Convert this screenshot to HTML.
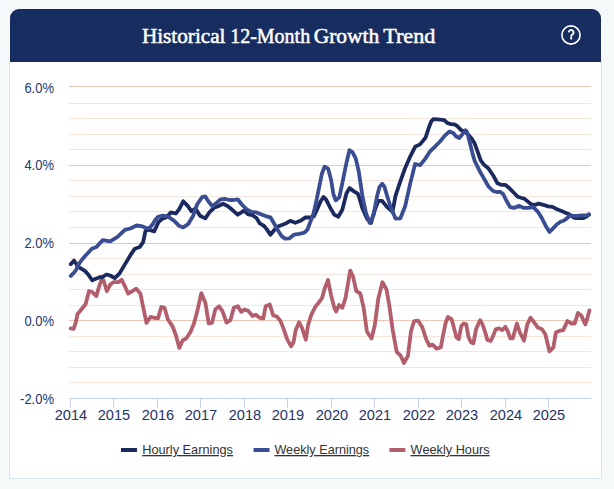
<!DOCTYPE html>
<html><head><meta charset="utf-8"><style>
html,body{margin:0;padding:0;}
body{width:614px;height:489px;background:#f5f9fa;position:relative;overflow:hidden;font-family:"Liberation Sans",sans-serif;}
.hdr{position:absolute;left:10px;top:9px;width:591px;height:53px;background:#182d5f;border-radius:9px 9px 0 0;}
.body{position:absolute;left:9px;top:62px;width:591px;height:416px;background:#fff;border:1px solid #d3e7ec;border-top:none;border-radius:0 0 2px 2px;}
svg{position:absolute;left:0;top:0;}
</style></head><body>
<div class="hdr"></div>
<div class="body"></div>
<svg width="614" height="489" viewBox="0 0 614 489">
<g><line x1="69" x2="591" y1="86.50" y2="86.50" stroke="#eec6b6" stroke-width="1.05"/>
<line x1="69" x2="591" y1="103.50" y2="103.50" stroke="#f6e5dd" stroke-width="1.05"/>
<line x1="69" x2="591" y1="118.50" y2="118.50" stroke="#f6e5dd" stroke-width="1.05"/>
<line x1="69" x2="591" y1="134.50" y2="134.50" stroke="#f6e5dd" stroke-width="1.05"/>
<line x1="69" x2="591" y1="149.50" y2="149.50" stroke="#f6e5dd" stroke-width="1.05"/>
<line x1="69" x2="591" y1="165.50" y2="165.50" stroke="#eec6b6" stroke-width="1.05"/>
<line x1="69" x2="591" y1="180.50" y2="180.50" stroke="#f6e5dd" stroke-width="1.05"/>
<line x1="69" x2="591" y1="196.50" y2="196.50" stroke="#f6e5dd" stroke-width="1.05"/>
<line x1="69" x2="591" y1="211.50" y2="211.50" stroke="#f6e5dd" stroke-width="1.05"/>
<line x1="69" x2="591" y1="227.50" y2="227.50" stroke="#f6e5dd" stroke-width="1.05"/>
<line x1="69" x2="591" y1="243.50" y2="243.50" stroke="#eec6b6" stroke-width="1.05"/>
<line x1="69" x2="591" y1="258.50" y2="258.50" stroke="#f6e5dd" stroke-width="1.05"/>
<line x1="69" x2="591" y1="274.50" y2="274.50" stroke="#f6e5dd" stroke-width="1.05"/>
<line x1="69" x2="591" y1="289.50" y2="289.50" stroke="#f6e5dd" stroke-width="1.05"/>
<line x1="69" x2="591" y1="305.50" y2="305.50" stroke="#f6e5dd" stroke-width="1.05"/>
<line x1="69" x2="591" y1="320.50" y2="320.50" stroke="#eec6b6" stroke-width="1.05"/>
<line x1="69" x2="591" y1="336.50" y2="336.50" stroke="#f6e5dd" stroke-width="1.05"/>
<line x1="69" x2="591" y1="351.50" y2="351.50" stroke="#f6e5dd" stroke-width="1.05"/>
<line x1="69" x2="591" y1="367.50" y2="367.50" stroke="#f6e5dd" stroke-width="1.05"/>
<line x1="69" x2="591" y1="382.50" y2="382.50" stroke="#f6e5dd" stroke-width="1.05"/>
</g>
<line x1="69.3" x2="591.2" y1="398.5" y2="398.5" stroke="#c8d1ea" stroke-width="1.2"/>
<line x1="70.50" x2="70.50" y1="398.5" y2="408" stroke="#c8d1ea" stroke-width="1"/>
<line x1="113.50" x2="113.50" y1="398.5" y2="408" stroke="#c8d1ea" stroke-width="1"/>
<line x1="157.50" x2="157.50" y1="398.5" y2="408" stroke="#c8d1ea" stroke-width="1"/>
<line x1="200.50" x2="200.50" y1="398.5" y2="408" stroke="#c8d1ea" stroke-width="1"/>
<line x1="244.50" x2="244.50" y1="398.5" y2="408" stroke="#c8d1ea" stroke-width="1"/>
<line x1="287.50" x2="287.50" y1="398.5" y2="408" stroke="#c8d1ea" stroke-width="1"/>
<line x1="331.50" x2="331.50" y1="398.5" y2="408" stroke="#c8d1ea" stroke-width="1"/>
<line x1="374.50" x2="374.50" y1="398.5" y2="408" stroke="#c8d1ea" stroke-width="1"/>
<line x1="418.50" x2="418.50" y1="398.5" y2="408" stroke="#c8d1ea" stroke-width="1"/>
<line x1="461.50" x2="461.50" y1="398.5" y2="408" stroke="#c8d1ea" stroke-width="1"/>
<line x1="505.50" x2="505.50" y1="398.5" y2="408" stroke="#c8d1ea" stroke-width="1"/>
<line x1="548.50" x2="548.50" y1="398.5" y2="408" stroke="#c8d1ea" stroke-width="1"/>

<g font-family="Liberation Sans" font-size="13" fill="#22396e"><text transform="translate(54,92.6) scale(1,1.08)" text-anchor="end">6.0%</text>
<text transform="translate(54,169.6) scale(1,1.08)" text-anchor="end">4.0%</text>
<text transform="translate(54,247.6) scale(1,1.08)" text-anchor="end">2.0%</text>
<text transform="translate(54,325.6) scale(1,1.08)" text-anchor="end">0.0%</text>
<text transform="translate(54,403.6) scale(1,1.08)" text-anchor="end">-2.0%</text>
</g>
<g font-family="Liberation Sans" font-size="14" fill="#1f3468"><text transform="translate(70.9,420) scale(1.045,1)" text-anchor="middle">2014</text>
<text transform="translate(113.9,420) scale(1.045,1)" text-anchor="middle">2015</text>
<text transform="translate(157.9,420) scale(1.045,1)" text-anchor="middle">2016</text>
<text transform="translate(200.9,420) scale(1.045,1)" text-anchor="middle">2017</text>
<text transform="translate(244.9,420) scale(1.045,1)" text-anchor="middle">2018</text>
<text transform="translate(287.9,420) scale(1.045,1)" text-anchor="middle">2019</text>
<text transform="translate(331.9,420) scale(1.045,1)" text-anchor="middle">2020</text>
<text transform="translate(374.9,420) scale(1.045,1)" text-anchor="middle">2021</text>
<text transform="translate(418.9,420) scale(1.045,1)" text-anchor="middle">2022</text>
<text transform="translate(461.9,420) scale(1.045,1)" text-anchor="middle">2023</text>
<text transform="translate(505.9,420) scale(1.045,1)" text-anchor="middle">2024</text>
<text transform="translate(548.9,420) scale(1.045,1)" text-anchor="middle">2025</text>
</g>
<g fill="none" stroke-width="3.8" stroke-linejoin="round" stroke-linecap="round">
<path d="M70.6,328.4 L73.6,328.8 L75.8,322.3 L77.5,314.1 L81.5,309.2 L85.6,304.3 L88.9,291.2 L92.2,292.0 L96.3,296.1 L98.7,287.9 L101.2,280.5 L103.6,280.5 L106.9,291.2 L110.2,284.6 L113.4,282.2 L118.4,282.2 L121.6,279.7 L124.9,286.3 L128.2,293.6 L132.3,291.2 L136.3,288.7 L140.4,293.6 L142.9,305.9 L146.5,322.9 L150.6,316.8 L154.7,318.0 L158.0,318.4 L161.3,307.0 L164.5,307.8 L167.8,319.3 L172.7,326.6 L176.0,335.6 L179.3,347.9 L182.5,340.5 L186.6,338.1 L190.7,331.5 L194.0,323.4 L197.3,311.1 L201.3,293.1 L205.4,302.9 L208.7,323.4 L212.0,322.9 L215.3,309.4 L219.1,306.2 L222.4,311.1 L226.5,322.5 L230.5,320.1 L233.8,307.8 L237.9,306.2 L241.2,311.9 L244.4,309.4 L248.5,311.1 L252.6,316.0 L255.9,314.7 L259.2,317.6 L263.3,318.4 L265.7,306.2 L269.8,304.5 L273.1,315.2 L277.2,316.8 L280.4,320.9 L283.7,329.1 L287.0,338.9 L291.1,346.3 L293.5,342.2 L295.7,330.3 L299.0,322.2 L302.3,328.7 L305.8,339.8 L308.0,325.4 L311.3,314.8 L315.4,306.6 L319.4,301.7 L321.9,298.4 L324.4,289.4 L328.0,280.0 L330.9,294.4 L334.2,307.4 L336.1,311.5 L339.1,305.0 L342.4,307.8 L345.6,297.6 L348.1,282.9 L350.2,270.6 L353.0,276.4 L356.3,291.1 L360.3,293.5 L363.6,307.4 L366.9,331.5 L371.5,338.5 L374.8,325.2 L378.3,298.6 L382.4,282.3 L386.5,289.4 L389.5,306.8 L392.6,329.3 L396.7,351.8 L400.8,355.9 L403.9,363.0 L407.9,355.9 L411.0,331.3 L414.1,321.1 L418.2,320.7 L422.3,327.3 L426.3,339.5 L429.4,345.7 L432.5,344.6 L436.6,348.7 L440.8,347.3 L443.3,334.2 L445.7,322.7 L447.9,317.0 L451.5,319.1 L453.9,327.6 L456.4,337.4 L458.8,339.1 L461.3,326.0 L463.7,323.5 L466.2,324.4 L468.6,337.4 L471.1,342.4 L473.5,343.2 L476.0,329.3 L480.1,320.3 L482.5,324.4 L485.0,331.7 L487.4,339.9 L490.7,341.0 L493.2,335.8 L495.6,329.3 L498.9,328.4 L502.2,330.1 L505.4,326.8 L507.9,331.7 L510.3,338.3 L512.8,338.3 L515.3,329.3 L516.9,323.5 L519.9,332.5 L524.0,340.7 L527.3,324.4 L530.5,317.8 L533.8,321.9 L537.9,327.6 L542.0,329.3 L545.3,334.2 L547.7,344.0 L549.4,351.3 L553.4,347.3 L555.9,332.5 L559.2,330.9 L563.3,330.1 L567.4,321.1 L571.4,323.5 L574.7,323.5 L578.0,312.9 L581.3,315.4 L585.3,324.4 L587.0,319.4 L589.4,310.4" stroke="#b25e6d"/>
<path d="M70.7,264.2 L74.0,260.6 L76.1,263.5 L77.5,266.4 L80.8,268.4 L84.9,270.9 L88.2,274.5 L92.3,280.3 L96.4,278.6 L100.4,277.0 L101.9,277.3 L106.5,274.5 L110.2,275.5 L114.8,278.2 L119.4,273.6 L124.9,264.4 L130.4,255.2 L134.9,248.7 L139.8,247.0 L143.1,242.2 L145.5,231.0 L148.8,229.6 L154.2,231.4 L158.5,222.0 L162.5,218.6 L166.5,217.2 L170.9,212.4 L175.8,213.5 L179.1,209.4 L183.2,201.3 L187.3,205.4 L191.4,211.1 L195.4,208.6 L200.3,216.0 L205.3,218.4 L209.1,212.7 L214.0,207.8 L218.1,206.2 L223.0,203.7 L227.9,206.2 L232.8,210.3 L237.7,214.7 L244.1,210.6 L248.2,214.4 L252.4,215.2 L256.5,218.0 L259.8,223.4 L263.9,225.8 L267.2,229.9 L270.4,234.8 L273.7,230.7 L277.8,226.6 L281.9,225.0 L285.1,223.8 L290.2,220.8 L295.3,222.8 L300.4,220.8 L305.6,217.3 L310.7,217.5 L313.8,216.5 L317.5,208.5 L320.5,201.5 L323.5,197.0 L326.0,199.3 L330.1,207.5 L334.2,214.6 L338.3,216.7 L342.4,209.5 L346.5,193.2 L349.5,188.1 L353.6,191.1 L357.7,193.6 L358.7,195.9 L362.4,208.2 L367.3,219.2 L371.0,222.9 L374.6,210.6 L378.3,200.8 L382.0,200.8 L386.9,206.9 L392.5,211.8 L395.5,195.9 L400.4,181.2 L405.3,167.7 L410.2,156.6 L415.1,146.8 L420.0,144.4 L425.5,137.8 L428.7,128.0 L431.2,121.5 L433.2,119.2 L437.9,119.4 L444.3,120.2 L447.5,123.2 L451.0,124.2 L454.5,124.4 L457.3,126.2 L461.4,130.3 L464.4,131.4 L468.5,134.9 L471.6,138.5 L474.7,143.6 L477.7,151.8 L480.8,160.6 L483.9,164.6 L488.5,168.5 L493.0,175.2 L497.5,183.3 L501.0,184.8 L505.4,184.9 L509.3,188.0 L513.6,192.5 L517.9,196.8 L521.5,198.0 L524.3,198.6 L527.9,201.6 L531.2,204.3 L534.8,204.8 L538.7,203.7 L543.3,204.8 L548.0,206.4 L552.6,206.8 L557.6,209.6 L561.5,211.1 L566.0,212.9 L569.6,214.4 L572.0,216.3 L574.5,217.9 L578.5,218.2 L583.0,218.2 L586.6,216.6 L589.0,214.6" stroke="#1b2a5e"/>
<path d="M70.8,275.9 L73.8,272.8 L76.3,269.6 L78.4,264.7 L82.5,259.0 L86.5,254.5 L91.8,248.8 L96.4,247.0 L102.8,240.1 L110.2,241.4 L117.5,236.8 L124.9,229.8 L130.4,228.5 L136.5,225.5 L141.5,226.1 L146.4,228.3 L149.5,227.9 L152.5,224.5 L155.5,219.5 L158.0,216.8 L162.7,215.7 L167.6,216.3 L174.2,220.9 L179.1,225.8 L183.2,227.4 L188.1,224.2 L193.0,216.0 L197.1,204.5 L202.0,197.2 L205.3,196.4 L208.3,201.3 L212.4,206.2 L216.5,202.9 L220.5,199.3 L224.6,198.8 L229.5,200.0 L233.6,200.0 L237.7,199.3 L241.8,204.5 L246.7,209.4 L251.6,211.9 L256.5,212.4 L261.4,214.4 L266.3,216.3 L270.4,217.3 L274.5,224.2 L278.6,231.5 L281.9,236.4 L285.0,238.6 L289.2,238.4 L294.2,234.6 L299.4,233.8 L304.5,232.6 L307.5,229.5 L310.5,221.5 L313.5,213.5 L316.3,201.2 L318.6,190.0 L321.9,173.7 L324.6,166.6 L328.1,168.6 L331.1,179.9 L333.4,194.2 L335.8,200.4 L339.3,197.3 L342.8,180.9 L346.5,162.5 L349.5,150.2 L352.6,152.3 L355.7,158.4 L358.7,171.3 L362.4,195.9 L366.0,213.1 L369.7,222.9 L373.4,215.5 L377.1,196.0 L379.5,187.0 L382.3,183.8 L384.4,186.6 L386.9,195.2 L390.6,207.0 L395.5,218.6 L400.4,218.3 L405.3,205.7 L410.2,183.6 L415.1,164.0 L420.0,165.2 L425.0,159.1 L429.8,151.7 L434.5,147.1 L440.1,141.5 L444.6,135.9 L449.6,131.4 L453.2,132.9 L456.2,136.5 L459.3,138.0 L461.9,134.9 L465.4,130.3 L467.0,131.9 L468.5,137.5 L470.6,145.7 L472.6,153.9 L474.7,161.0 L479.5,170.7 L484.0,178.6 L488.5,186.5 L493.0,191.0 L497.5,192.1 L500.0,191.7 L503.1,194.0 L506.2,200.2 L510.1,207.1 L513.9,207.9 L519.3,205.9 L524.0,207.9 L528.6,207.9 L533.3,207.1 L537.9,211.8 L541.8,218.0 L545.6,225.7 L549.5,231.9 L552.8,228.6 L557.0,224.2 L560.5,221.8 L563.5,220.8 L566.9,218.4 L569.6,215.6 L572.0,215.8 L574.5,216.0 L577.8,215.8 L581.1,215.4 L584.3,215.3 L587.0,215.1 L589.0,214.4" stroke="#3a4d92"/>
</g>
<g font-family="Liberation Serif" font-size="20.8" fill="#fff" stroke="#fff" stroke-width="0.5">
<text x="141.9" y="43" textLength="83.6" lengthAdjust="spacingAndGlyphs">Historical</text>
<text x="230.2" y="43" textLength="80" lengthAdjust="spacingAndGlyphs">12-Month</text>
<text x="313.7" y="43" textLength="65.6" lengthAdjust="spacingAndGlyphs">Growth</text>
<text x="383.2" y="43" textLength="52.2" lengthAdjust="spacingAndGlyphs">Trend</text>
</g>
<circle cx="571" cy="35" r="9.1" fill="none" stroke="#fff" stroke-width="1.6"/>
<path d="M568.9,31.5 A2.4,2.4 0 1 1 572.6,34.3 L571.7,35.1 Q571.2,35.6 571.2,36.4" fill="none" stroke="#fff" stroke-width="1.9" stroke-linecap="round"/>
<circle cx="571.2" cy="38.4" r="1.15" fill="#fff"/>
<g font-family="Liberation Sans" font-size="13" fill="#333">
<rect x="121" y="448" width="16" height="4" fill="#1b2a5e"/>
<text x="142.2" y="454" text-decoration="underline" textLength="90.8" lengthAdjust="spacingAndGlyphs">Hourly Earnings</text>
<rect x="253.5" y="448" width="16" height="4" fill="#3a4d92"/>
<text x="274.4" y="454" text-decoration="underline" textLength="94.8" lengthAdjust="spacingAndGlyphs">Weekly Earnings</text>
<rect x="389.4" y="448" width="16" height="4" fill="#b25e6d"/>
<text x="410.6" y="454" text-decoration="underline" textLength="79" lengthAdjust="spacingAndGlyphs">Weekly Hours</text>
</g>
</svg>
</body></html>
